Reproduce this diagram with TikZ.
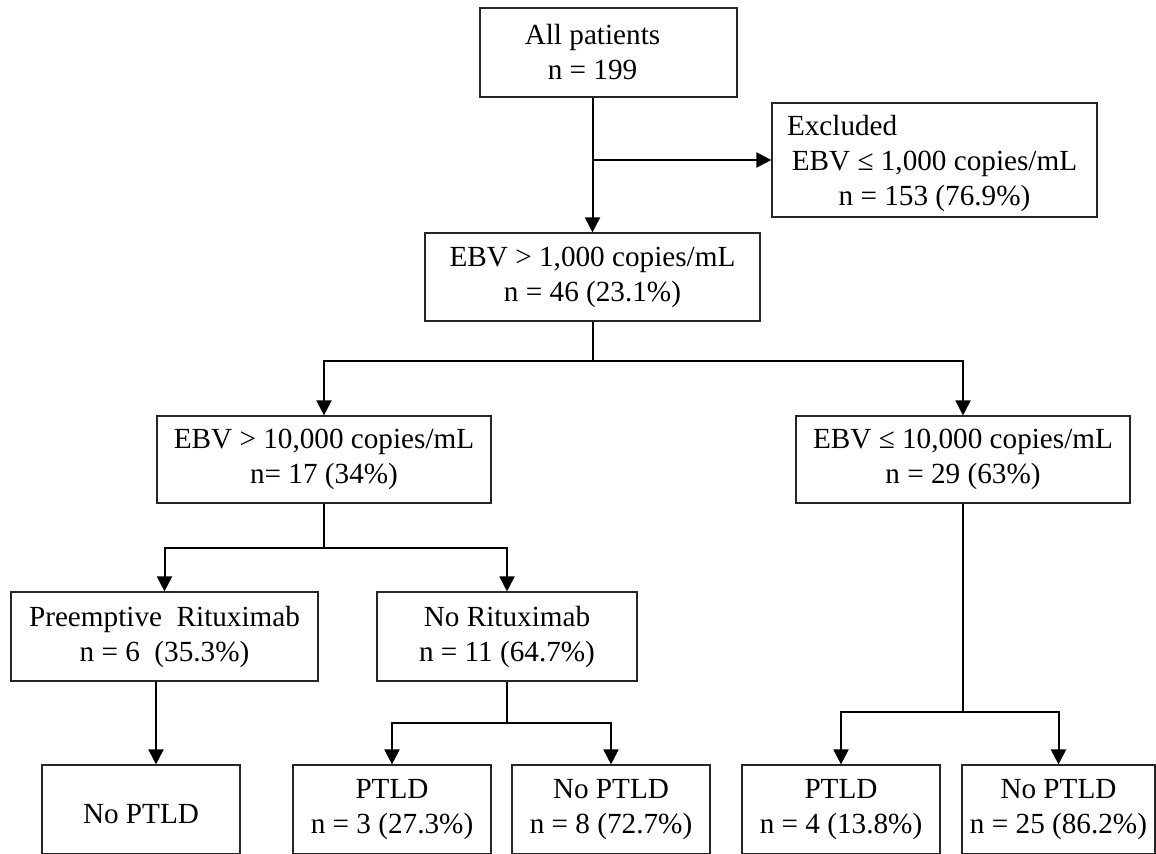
\documentclass[tikz,border=0pt]{standalone}
\usepackage{fontspec}
\setmainfont{Liberation Serif}
\usetikzlibrary{arrows.meta}
\tikzstyle{box}=[draw=black!85,line width=0.6pt,align=center,inner sep=0pt,font=\fontsize{14.6}{17.5}\selectfont,
                 execute at begin node={\rule{0pt}{14pt}}]
\tikzstyle{bottom box}=[box,minimum height=44.5pt]
\tikzstyle{link}=[draw,line width=1pt,-{Triangle[length=7.5pt,width=7.5pt]}]

\begin{document}
\begin{tikzpicture}[x=0.5pt,y=-0.5pt]
    \useasboundingbox (0,0) rectangle (1156,853);
    \clip (0,0) rectangle (1156,853);
    	% draw the boxes
    	\node[box,minimum width=128.5pt,minimum height=44.5pt] (all) at (608.5,52.5)
    	    {All patients\kern16pt\\n = 199\kern16pt};
    	\node[box,text width=147.5pt,inner xsep=7.5pt,minimum height=57pt,align=flush center,
    	      execute at begin node={\rule{0pt}{12pt}}] (excl) at (934.5,160)
    	    {\makebox[\linewidth][l]{Excluded}\\EBV ≤ 1,000 copies/mL\\n = 153 (76.9\%)};
    	\node[box,minimum width=167.5pt,minimum height=44pt] (gt1k) at (592.5,277)
    	    {EBV > 1,000 copies/mL\\n = 46 (23.1\%)};
    	\node[box,minimum width=167pt,minimum height=43.5pt] (gt10k) at (324,459.5)
    	    {EBV > 10,000 copies/mL\\n= 17 (34\%)};
    	\node[box,minimum width=167pt,minimum height=43.5pt] (le10k) at (963,459.5)
    	    {EBV ≤ 10,000 copies/mL\\n = 29 (63\%)};
    	\node[box,minimum width=153.5pt,minimum height=44.5pt] (pre) at (164.5,636.5)
    	    {Preemptive~~Rituximab\\n = 6~~(35.3\%)};
    	\node[box,minimum width=130pt,minimum height=44.5pt] (norit) at (507,636.5)
    	    {No Rituximab\\n = 11 (64.7\%)};
    	% outcome boxes, cut off by the lower edge
    	\foreach \x/\name/\w/\txt in {141/noA/99pt/{No PTLD}, 392/ptldA/99pt/{PTLD\\n = 3 (27.3\%)},
    	                             611/noB/99pt/{No PTLD\\n = 8 (72.7\%)}, 841/ptldB/99pt/{PTLD\\n = 4 (13.8\%)},
    	                             1058.5/noC/96.5pt/{No PTLD\\n = 25 (86.2\%)}}
    	    \node[bottom box,minimum width=\w] (\name) at (\x,809.5) {\txt};
    	% connect the boxes
    	\path[link] (all.south -| gt1k.north) -- (gt1k.north);
    	\path[link] (gt1k.north |- excl.west) -- (excl.west);
    	\path[link] (gt1k.south) -- ++(0,39) -| (gt10k.north);
    	\path[link] (gt1k.south) -- ++(0,39) -| (le10k.north);
    	\path[link] (gt10k.south) -- ++(0,44) -| (pre.north);
    	\path[link] (gt10k.south) -- ++(0,44) -| (norit.north);
    	\path[link] ([xshift=-4.25pt]pre.south) -- ([xshift=-4.25pt]pre.south |- noA.north);
    	\path[link] (norit.south) -- ++(0,41) -| (ptldA.north);
    	\path[link] (norit.south) -- ++(0,41) -| (noB.north);
    	\path[link] (le10k.south) -- ++(0,208) -| (ptldB.north);
    	\path[link] (le10k.south) -- ++(0,208) -| (noC.north);
\end{tikzpicture}
\end{document}
